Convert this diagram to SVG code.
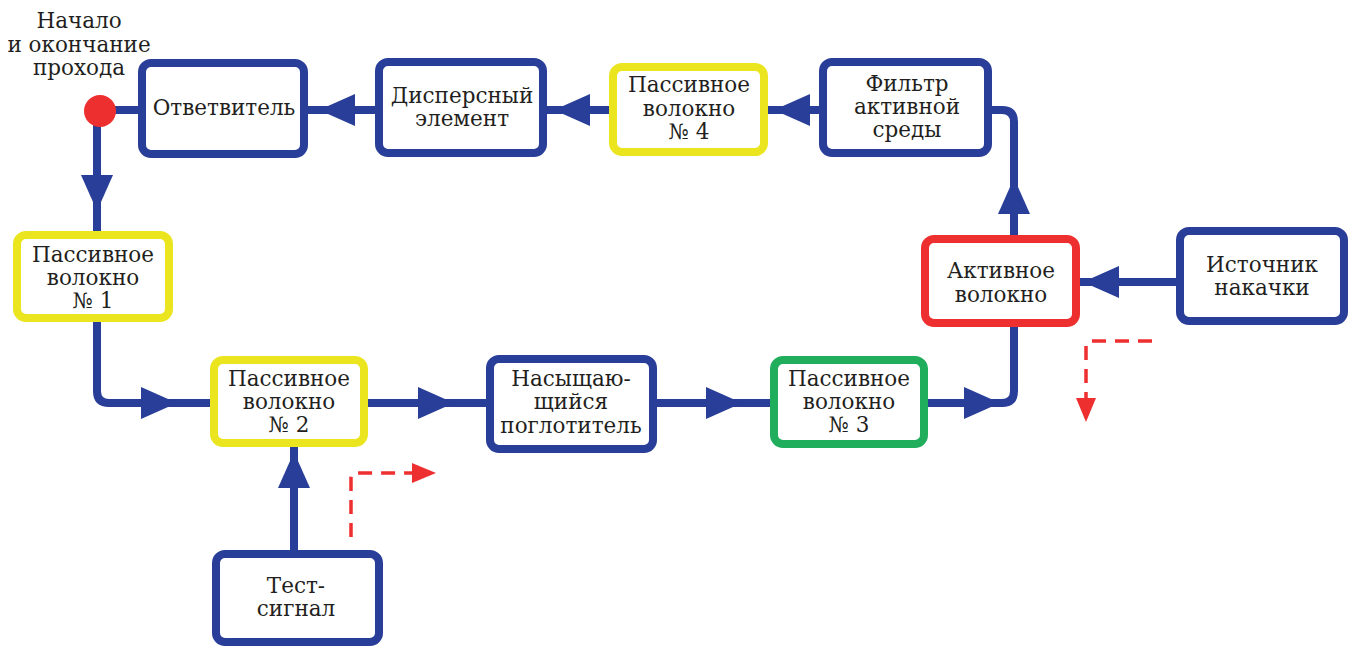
<svg xmlns="http://www.w3.org/2000/svg" xmlns:xlink="http://www.w3.org/1999/xlink" width="1352" height="646" viewBox="0 0 1352 646">
<style>
.box{fill:#fff;stroke-width:8;}
.blue{stroke:#283e98;}
.yellow{stroke:#ebe51f;}
.red{stroke:#ee2f30;}
.green{stroke:#20ae5c;}
.t{font-family:"DejaVu Serif","Liberation Serif",serif;font-size:21.5px;fill:#231f20;text-anchor:middle;}
.ln{fill:none;stroke:#283e98;stroke-width:8;stroke-linejoin:round;}
.dash{fill:none;stroke:#ee2f30;stroke-width:3.5;stroke-dasharray:14 9;}
.ah{fill:#283e98;}
.rah{fill:#ee2f30;}
</style>
<defs>
<path id="ah" d="M0,0 L-36,-16 L-36,16 Z"/>
<path id="rah" d="M0,0 L-24,-10 L-24,10 Z"/>
</defs>
<rect width="1352" height="646" fill="#fff"/>
<g id="connectors">
<line class="ln" x1="100" y1="110" x2="142" y2="110"/>
<path class="ln" d="M97,111 V231"/>
<path class="ln" d="M97,322 V391 Q97,403 109,403 H210"/>
<line class="ln" x1="368" y1="403" x2="486" y2="403"/>
<line class="ln" x1="657" y1="403" x2="770" y2="403"/>
<path class="ln" d="M928,403 H1002 Q1014,403 1014,391 V327"/>
<path class="ln" d="M1014,235 V122 Q1014,110 1002,110 H992"/>
<line class="ln" x1="819" y1="110" x2="768" y2="110"/>
<line class="ln" x1="609" y1="110" x2="545" y2="110"/>
<line class="ln" x1="377" y1="110" x2="307" y2="110"/>
<line class="ln" x1="1176" y1="282" x2="1080" y2="282"/>
<line class="ln" x1="294" y1="550" x2="294" y2="447"/>
<use href="#ah" class="ah" transform="translate(97,211) rotate(90)"/>
<use href="#ah" class="ah" transform="translate(177,403)"/>
<use href="#ah" class="ah" transform="translate(454,403)"/>
<use href="#ah" class="ah" transform="translate(742,403)"/>
<use href="#ah" class="ah" transform="translate(1000,403)"/>
<use href="#ah" class="ah" transform="translate(1014,178) rotate(-90)"/>
<use href="#ah" class="ah" transform="translate(774,110) rotate(180)"/>
<use href="#ah" class="ah" transform="translate(554,110) rotate(180)"/>
<use href="#ah" class="ah" transform="translate(319,110) rotate(180)"/>
<use href="#ah" class="ah" transform="translate(1083,282) rotate(180)"/>
<use href="#ah" class="ah" transform="translate(294,452) rotate(-90)"/>
<path class="dash" d="M351,537 V478 Q351,473 356,473 H414"/>
<use href="#rah" class="rah" transform="translate(436,473)"/>
<path class="dash" d="M1152,341 H1091 Q1086,341 1086,346 V398"/>
<use href="#rah" class="rah" transform="translate(1086,422) rotate(90)"/>
</g>
<g id="label-start">
<text class="t" x="79" y="28">Начало</text>
<text class="t" x="79" y="52">и окончание</text>
<text class="t" x="79" y="75">прохода</text>
<circle cx="100" cy="111" r="16" fill="#ee2f30"/>
</g>
<g id="n-otv">
<rect class="box blue" x="142" y="63" width="162" height="91" rx="9"/>
<text class="t" x="224" y="115">Ответвитель</text>
</g>
<g id="n-disp">
<rect class="box blue" x="379" y="62" width="164" height="91" rx="9"/>
<text class="t" x="462" y="103">Дисперсный</text>
<text class="t" x="462" y="126">элемент</text>
</g>
<g id="n-p4">
<rect class="box yellow" x="613" y="67" width="151" height="85" rx="9"/>
<text class="t" x="689" y="92">Пассивное</text>
<text class="t" x="689" y="116">волокно</text>
<text class="t" x="689" y="139">№ 4</text>
</g>
<g id="n-filter">
<rect class="box blue" x="823" y="62" width="165" height="91" rx="9"/>
<text class="t" x="907" y="91">Фильтр</text>
<text class="t" x="907" y="114">активной</text>
<text class="t" x="907" y="137">среды</text>
</g>
<g id="n-p1">
<rect class="box yellow" x="17" y="235" width="152" height="83" rx="9"/>
<text class="t" x="93" y="262">Пассивное</text>
<text class="t" x="93" y="285">волокно</text>
<text class="t" x="93" y="308">№ 1</text>
</g>
<g id="n-p2">
<rect class="box yellow" x="214" y="360" width="150" height="83" rx="9"/>
<text class="t" x="289" y="386">Пассивное</text>
<text class="t" x="289" y="409">волокно</text>
<text class="t" x="289" y="432">№ 2</text>
</g>
<g id="n-sat">
<rect class="box blue" x="490" y="359" width="163" height="90" rx="9"/>
<text class="t" x="571" y="386">Насыщаю-</text>
<text class="t" x="571" y="409">щийся</text>
<text class="t" x="571" y="433">поглотитель</text>
</g>
<g id="n-p3">
<rect class="box green" x="774" y="360" width="150" height="84" rx="9"/>
<text class="t" x="849" y="386">Пассивное</text>
<text class="t" x="849" y="409">волокно</text>
<text class="t" x="849" y="432">№ 3</text>
</g>
<g id="n-active">
<rect class="box red" x="925" y="239" width="151" height="84" rx="9"/>
<text class="t" x="1001" y="278">Активное</text>
<text class="t" x="1001" y="302">волокно</text>
</g>
<g id="n-pump">
<rect class="box blue" x="1180" y="231" width="164" height="90" rx="9"/>
<text class="t" x="1262" y="272">Источник</text>
<text class="t" x="1262" y="295">накачки</text>
</g>
<g id="n-test">
<rect class="box blue" x="216" y="554" width="163" height="88" rx="9"/>
<text class="t" x="296" y="593">Тест-</text>
<text class="t" x="296" y="616">сигнал</text>
</g>
</svg>
